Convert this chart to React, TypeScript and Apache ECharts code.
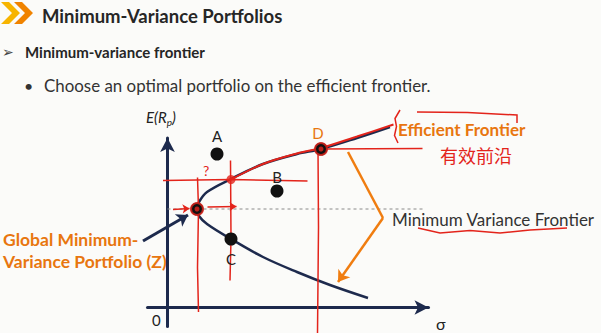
import React, { useEffect, useRef } from "react";
import * as echarts from "echarts";

// Minimum-variance frontier (σ, E(Rp)), from lower end to upper end
const frontierSigma = [20.05, 16.25, 12.95, 9.55, 6.35, 3.95, 3.15, 2.95, 3.15, 3.95, 6.35, 9.55, 12.95, 15.35, 18.95, 22.25];
const frontierReturn = [0.95, 2.25, 3.55, 5.05, 6.85, 8.35, 9.15, 9.85, 10.55, 11.55, 12.85, 14.35, 15.35, 15.85, 16.95, 18.05];

// red hand-drawn trace over the efficient part
const efficientSigma = [6.35, 9.55, 12.95, 15.35, 18.95, 22.6];
const efficientReturn = [12.8, 14.35, 15.4, 15.95, 17.1, 18.3];

// portfolios
const portfolioNames = ["A", "B", "C", "D", "Z"];
const portfolioSigma = [4.95, 10.95, 6.35, 15.35, 2.95];
const portfolioReturn = [15.35, 11.65, 6.85, 15.85, 9.85];

// point marked in red on the frontier
const markedSigma = [6.35];
const markedReturn = [12.8];

// tick / axis texts
const yAxisName = ["E(R", "p", ")"];
const xAxisName = "σ";
const originLabel = "0";

// annotation polylines (σ, E(Rp))
const minReturnLine = [[0, 9.85], [25.75, 9.85]];
const orangeUpper = [[18.05, 15.55], [21.55, 8.95]];
const orangeLower = [[21.55, 8.95], [17.05, 2.55]];
const navyPointer = [[-2.45, 6.65], [2.05, 9.25]];
const redVerticals = [
  [[3.0, 13.0], [3.1, 9.85], [3.0, 4.0], [3.1, -0.45]],
  [[6.3, 14.7], [6.35, 6.85], [6.25, 2.7]],
  [[15.05, 15.85], [15.1, 8.0], [15.0, -2.6]],
];
const redHorizontals = [
  [[-0.45, 12.7], [6.35, 12.8], [14.0, 12.65]],
  [[15.35, 15.85], [25.5, 15.9]],
];
const redSmallArrows = [
  [[0.55, 9.8], [2.2, 9.9]],
  [[4.0, 10.05], [6.9, 10.1]],
];
const redBracket = [
  [[23.25, 19.75], [22.75, 18.9], [22.9, 18.1], [22.7, 17.2], [23.05, 16.45]],
  [[24.95, 19.55], [30.0, 19.5], [34.95, 19.25], [34.95, 18.45]],
];
const redSquiggle = [[25.05, 7.95], [27.25, 7.45], [30.25, 7.7], [33.25, 7.45], [36.25, 7.75], [39.95, 7.95]];

const NAVY = "#1d2a4d";
const ORANGE = "#e8760f";
const RED = "#e3241b";
const FONT = "Lato";

function polySeries(lines: number[][][], color: string, width: number, dashed = false) {
  return {
    type: "lines",
    coordinateSystem: "cartesian2d",
    polyline: true,
    clip: false,
    silent: true,
    lineStyle: { color, width, opacity: 1, type: dashed ? [3, 3] : "solid", curveness: 0 },
    data: lines.map((c) => ({ coords: c })),
    z: 3,
  };
}

function arrowSeries(lines: number[][][], color: string, width: number, arrow: boolean, size = 10) {
  return {
    type: "lines",
    coordinateSystem: "cartesian2d",
    polyline: false,
    clip: false,
    silent: true,
    symbol: arrow ? ["none", "arrow"] : ["none", "none"],
    symbolSize: size,
    lineStyle: { color, width, opacity: 1, curveness: 0 },
    data: lines.map((c) => ({ coords: c })),
    z: 3,
  };
}

export default function App() {
  const ref = useRef<HTMLDivElement>(null);
  useEffect(() => {
    const chart = echarts.init(ref.current!, null, { renderer: "svg" });
    const option: any = {
      animation: false,
      backgroundColor: "#fbfbf9",
      grid: { left: 147.5, top: 138, width: 281, height: 188.5, outerBoundsMode: "none" },
      xAxis: {
        type: "value",
        min: -2,
        max: 26.1,
        axisLine: { onZero: true, symbol: ["none", "arrow"], symbolSize: [11, 14], lineStyle: { color: NAVY, width: 3 } },
        axisTick: { show: false },
        axisLabel: { show: false },
        splitLine: { show: false },
      },
      yAxis: {
        type: "value",
        min: -1.9,
        max: 16.95,
        axisLine: { onZero: true, symbol: ["none", "arrow"], symbolSize: [11, 14], lineStyle: { color: NAVY, width: 3 } },
        axisTick: { show: false },
        axisLabel: { show: false },
        splitLine: { show: false },
      },
      graphic: [
        // title chevrons
        { type: "polygon", shape: { points: [[1, 2], [9, 2], [20, 13], [9, 24], [1, 24], [12, 13]] }, style: { fill: "#f7b400" } },
        { type: "polygon", shape: { points: [[14, 2], [22, 2], [33, 13], [22, 24], [14, 24], [25, 13]] }, style: { fill: "#f08300" } },
        { type: "text", x: 42, y: 16, style: { text: "Minimum-Variance Portfolios", fontFamily: FONT, fontWeight: "bold", fontSize: 18.5, fill: "#262626", verticalAlign: "middle" } },
        { type: "text", x: 2, y: 52, style: { text: "➢", fontFamily: "DejaVu Sans", fontSize: 14, fill: "#444", verticalAlign: "middle" } },
        { type: "text", x: 25, y: 52, style: { text: "Minimum-variance frontier", fontFamily: FONT, fontWeight: "bold", fontSize: 15, fill: "#262626", verticalAlign: "middle" } },
        { type: "text", x: 24, y: 85, style: { text: "•", fontFamily: FONT, fontSize: 16, fill: "#333", verticalAlign: "middle" } },
        { type: "text", x: 44, y: 85, style: { text: "Choose an optimal portfolio on the efficient frontier.", fontFamily: FONT, fontSize: 16.9, fill: "#333", verticalAlign: "middle" } },
        // axis names
        {
          type: "text", x: 146, y: 117,
          style: {
            text: `{a|${yAxisName[0]}}{b|${yAxisName[1]}}{a|${yAxisName[2]}}`,
            verticalAlign: "middle",
            rich: {
              a: { fontFamily: FONT, fontStyle: "italic", fontSize: 15, fill: "#222", lineHeight: 20 },
              b: { fontFamily: FONT, fontStyle: "italic", fontSize: 10, fill: "#222", lineHeight: 20, padding: [10, 0, 0, 0] },
            },
          },
        },
        { type: "text", x: 152, y: 320, style: { text: originLabel, fontFamily: FONT, fontSize: 15, fill: "#222", verticalAlign: "middle" } },
        { type: "text", x: 436, y: 323, style: { text: xAxisName, fontFamily: FONT, fontSize: 16, fill: "#222", verticalAlign: "middle" } },
        // labels
        { type: "text", x: 398, y: 129, z: 10, style: { text: "Efficient Frontier", fontFamily: FONT, fontWeight: "bold", fontSize: 17, fill: ORANGE, verticalAlign: "middle" } },
        { type: "text", x: 392, y: 219, style: { text: "Minimum Variance Frontier", fontFamily: FONT, fontSize: 17, fill: "#333", verticalAlign: "middle" } },
        { type: "text", x: 3, y: 239, style: { text: "Global Minimum-", fontFamily: FONT, fontWeight: "bold", fontSize: 17.5, fill: ORANGE, verticalAlign: "middle" } },
        { type: "text", x: 3, y: 261, style: { text: "Variance Portfolio (Z)", fontFamily: FONT, fontWeight: "bold", fontSize: 17.5, fill: ORANGE, verticalAlign: "middle" } },
        // handwriting
        { type: "text", x: 440, y: 155, style: { text: "有效前沿", fontFamily: "Noto Sans CJK SC", fontSize: 18, fill: RED, verticalAlign: "middle" } },
        { type: "text", x: 203, y: 170, style: { text: "?", fontFamily: FONT, fontSize: 14, fill: RED, verticalAlign: "middle" } },
      ],
      series: [
        polySeries([minReturnLine], "#8a8a8a", 1, true),
        {
          type: "line",
          data: frontierSigma.map((s, i) => [s, frontierReturn[i]]),
          smooth: 0.35,
          showSymbol: false,
          clip: false,
          lineStyle: { color: NAVY, width: 2.5 },
          z: 2,
        },
        polySeries(redVerticals, RED, 1.5),
        polySeries(redHorizontals, RED, 1.5),
        arrowSeries(redSmallArrows, RED, 1.3, true, 7),
        polySeries(redBracket, RED, 1.5),
        polySeries([redSquiggle], RED, 1.5),
        {
          type: "line",
          data: efficientSigma.map((s, i) => [s, efficientReturn[i]]),
          smooth: 0.35,
          showSymbol: false,
          clip: false,
          lineStyle: { color: RED, width: 2 },
          z: 4,
        },
        arrowSeries([orangeUpper], "#f07d10", 2.5, false),
        arrowSeries([orangeLower], "#f07d10", 2.5, true, 11),
        arrowSeries([navyPointer], NAVY, 3, true, 11),
        {
          type: "scatter",
          symbolSize: 13,
          itemStyle: { color: "#111", opacity: 1 },
          z: 5,
          clip: false,
          data: portfolioNames.map((n, i) => ({
            name: n,
            value: [portfolioSigma[i], portfolioReturn[i]],
            label: {
              show: n !== "Z",
              formatter: n,
              position: n === "C" ? "bottom" : "top",
              distance: n === "A" ? 4 : n === "B" ? 0 : n === "C" ? 6 : 2,
              offset: n === "D" ? [-3, 0] : [0, 0],
              fontFamily: FONT,
              fontSize: 15,
              color: n === "D" ? ORANGE : "#222",
            },
          })),
        },
        {
          type: "scatter",
          symbol: "circle",
          symbolSize: 12,
          z: 6,
          itemStyle: { color: "rgba(0,0,0,0)", borderColor: RED, borderWidth: 2 },
          data: [[portfolioSigma[4], portfolioReturn[4]], [portfolioSigma[3], portfolioReturn[3]]],
        },
        {
          type: "scatter",
          symbolSize: 5,
          z: 6,
          itemStyle: { color: RED },
          data: [[portfolioSigma[4], portfolioReturn[4]], [portfolioSigma[3], portfolioReturn[3]]],
        },
        {
          type: "scatter",
          symbolSize: 9,
          z: 6,
          itemStyle: { color: RED },
          data: markedSigma.map((s, i) => [s, markedReturn[i]]),
        },
      ],
    };
    chart.setOption(option);
    return () => chart.dispose();
  }, []);
  return (
    <div
      ref={ref}
      style={{ position: "fixed", left: 0, top: 0, width: 601, height: 333, background: "#fbfbf9" }}
    />
  );
}
